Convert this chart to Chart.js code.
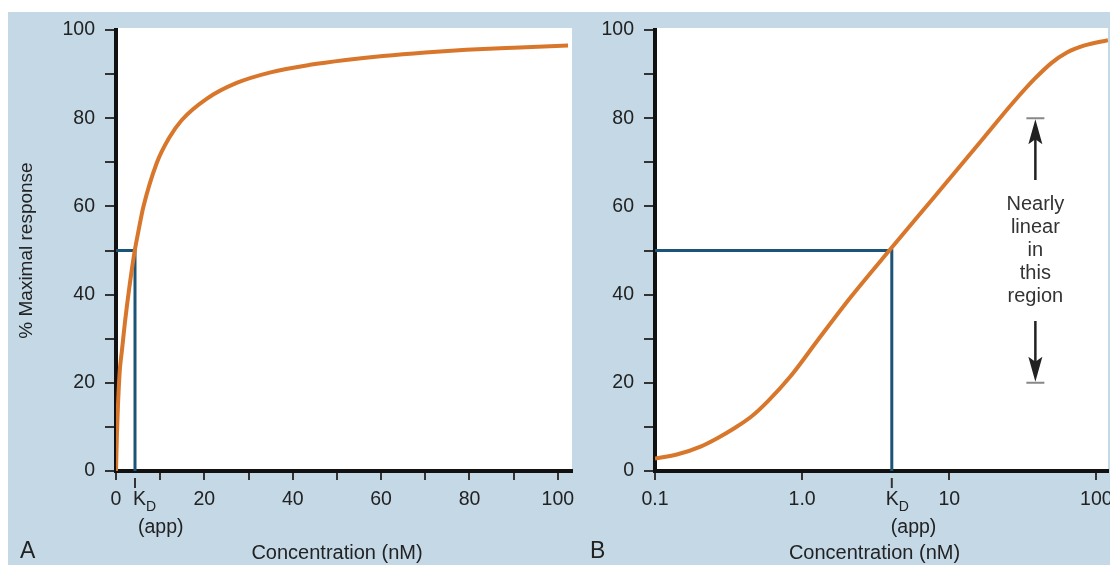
<!DOCTYPE html>
<html>
<head>
<meta charset="utf-8">
<script src="https://cdn.jsdelivr.net/npm/chart.js@4.4.1/dist/chart.umd.min.js"></script>
<style>
  html, body { margin: 0; padding: 0; background: #ffffff; overflow: hidden; width: 1110px; height: 565px; }
  #bg { position: absolute; left: 8px; top: 12px; width: 1102px; height: 553px; background: #c4d8e6; }
  canvas { position: absolute; top: 0; }
  #cA { left: 0; }
  #cB { left: 590px; }
</style>
</head>
<body>
<div id="bg"></div>
<canvas id="cA" width="590" height="565"></canvas>
<canvas id="cB" width="540" height="565"></canvas>
<script>
// ---------- data ----------
// Panel A: linear concentration axis
const concA = [0, 0.2, 0.8, 1.3, 2, 3, 4.3, 5, 6.2, 9.2, 12, 14.9, 20.5, 27.3, 35, 43.9, 52, 60.4, 70, 79.3, 90, 102.3];
const respA = [0, 8, 22, 27, 33.5, 41.5, 50.3, 54, 59.9, 69.8, 75.5, 79.6, 84.4, 88.0, 90.4, 92.1, 93.2, 94.1, 94.9, 95.5, 96.0, 96.5];
const kdA = 4.3;
const xTicksA = [0, 10, 20, 30, 40, 50, 60, 70, 80, 90, 100];
const xLabelsA = ['0', '', '20', '', '40', '', '60', '', '80', '', '100'];

// Panel B: logarithmic concentration axis
const concB = [0.1, 0.1426, 0.206, 0.267, 0.346, 0.45, 0.584, 0.84, 1.28, 2.15, 4.03, 7.94, 17.4, 22.6, 29.3, 38, 49.4, 63.1, 83.2, 120];
const respB = [2.8, 3.8, 5.6, 7.5, 9.7, 12.3, 15.8, 21.6, 29.7, 39.5, 50.5, 62.2, 75.8, 80.4, 84.8, 88.9, 92.5, 94.9, 96.5, 97.7];
const kdB = 4.07;
const xTicksB = [0.1, 1, 10, 100];
const xLabelsB = ['0.1', '1.0', '10', '100'];

// shared
const yTicks = [0, 10, 20, 30, 40, 50, 60, 70, 80, 90, 100];
const yLabels = ['0', '', '20', '', '40', '', '60', '', '80', '', '100'];
const kdResponse = 50;
const linearRegion = [20, 80];          // bracket limits
const arrowStarts = [34, 66];           // where the arrow shafts start
const arrowConc = 38.5;                 // x position of the bracket
const noteLines = ['Nearly', 'linear', 'in', 'this', 'region'];

// ---------- styling ----------
const FONT = '"Liberation Sans", Arial, Helvetica, sans-serif';
const ORANGE = '#d8772c';
const BLUE = '#1b5478';
const INK = '#222222';
Chart.defaults.font.family = FONT;
Chart.defaults.color = INK;

const whitePlot = {
  id: 'whitePlot',
  beforeDraw(chart) {
    const { ctx, chartArea: a } = chart;
    ctx.save();
    ctx.fillStyle = '#ffffff';
    ctx.fillRect(a.left, a.top - 2, a.right - a.left, a.bottom - a.top + 2);
    ctx.restore();
  }
};

function extras(kd, kDx, appDx, letter, letterX, note) {
  return {
    id: 'extras',
    afterDraw(chart) {
      const { ctx, chartArea: a } = chart;
      const xs = chart.scales.x, ys = chart.scales.y;
      const px = xs.getPixelForValue(kd);
      const b = a.bottom;
      ctx.save();
      // KD tick mark
      ctx.strokeStyle = '#333';
      ctx.lineWidth = 2;
      ctx.beginPath(); ctx.moveTo(px, b + 7); ctx.lineTo(px, b + 17); ctx.stroke();
      // KD (app) label
      ctx.fillStyle = INK;
      ctx.textBaseline = 'middle';
      ctx.textAlign = 'left';
      ctx.font = '19.5px ' + FONT;
      ctx.fillText('K', px + kDx, b + 29);
      const kw = ctx.measureText('K').width;
      ctx.font = '14px ' + FONT;
      ctx.fillText('D', px + kDx + kw, b + 36);
      ctx.font = '19.5px ' + FONT;
      ctx.fillText('(app)', px + appDx, b + 57);
      // axis title
      ctx.textAlign = 'center';
      ctx.font = '20px ' + FONT;
      ctx.fillText('Concentration (nM)', (a.left + a.right) / 2 - 7, 553);
      // panel letter
      ctx.textAlign = 'left';
      ctx.font = '23px ' + FONT;
      ctx.fillText(letter, letterX, 552);

      if (note) {
        const xA = xs.getPixelForValue(arrowConc);
        const yTop = ys.getPixelForValue(linearRegion[1]);
        const yBot = ys.getPixelForValue(linearRegion[0]);
        const yUp = ys.getPixelForValue(arrowStarts[1]);
        const yDn = ys.getPixelForValue(arrowStarts[0]);
        // bracket ends
        ctx.strokeStyle = '#888';
        ctx.lineWidth = 2;
        ctx.beginPath();
        ctx.moveTo(xA - 9, yTop); ctx.lineTo(xA + 9, yTop);
        ctx.moveTo(xA - 9, yBot); ctx.lineTo(xA + 9, yBot);
        ctx.stroke();
        // shafts
        ctx.strokeStyle = INK;
        ctx.lineWidth = 2.5;
        ctx.beginPath();
        ctx.moveTo(xA, yUp); ctx.lineTo(xA, yTop + 18);
        ctx.moveTo(xA, yDn); ctx.lineTo(xA, yBot - 18);
        ctx.stroke();
        // heads
        ctx.fillStyle = INK;
        ctx.beginPath();
        ctx.moveTo(xA, yTop + 1); ctx.lineTo(xA - 7, yTop + 26); ctx.lineTo(xA, yTop + 21); ctx.lineTo(xA + 7, yTop + 26); ctx.closePath();
        ctx.moveTo(xA, yBot - 1); ctx.lineTo(xA - 7, yBot - 26); ctx.lineTo(xA, yBot - 21); ctx.lineTo(xA + 7, yBot - 26); ctx.closePath();
        ctx.fill();
        // text
        const yc = ys.getPixelForValue(kdResponse);
        ctx.fillStyle = '#333';
        ctx.textAlign = 'center';
        ctx.textBaseline = 'middle';
        ctx.font = '20px ' + FONT;
        noteLines.forEach((t, i) => ctx.fillText(t, xA, yc + (i - 2) * 23.2));
      }
      ctx.restore();
    }
  };
}

function yScale(showTitle, width) {
  return {
    type: 'linear', min: 0, max: 100,
    afterBuildTicks: s => { s.ticks = yTicks.map(v => ({ value: v })); },
    afterFit: s => { s.width = width; },
    ticks: { callback: (v, i) => yLabels[i], padding: 10, font: { size: 19.5 }, color: INK, autoSkip: false },
    grid: { drawOnChartArea: false, drawTicks: true, tickLength: 11, color: '#333', lineWidth: 2 },
    border: { display: true, color: '#111', width: 4 },
    title: { display: showTitle, text: '% Maximal response', font: { size: 19 }, color: INK, padding: { top: 15.6, bottom: 0 } }
  };
}

function xGrid() {
  return { drawOnChartArea: false, drawTicks: true, tickLength: 9, color: '#333', lineWidth: 2 };
}

function curveDataset(xs, ys) {
  return {
    data: xs.map((x, i) => ({ x, y: ys[i] })),
    borderColor: ORANGE, borderWidth: 4, pointRadius: 0,
    cubicInterpolationMode: 'monotone', fill: false, order: 0
  };
}
function kdDataset(xStart, kd) {
  return {
    data: [{ x: xStart, y: kdResponse }, { x: kd, y: kdResponse }, { x: kd, y: 0 }],
    borderColor: BLUE, borderWidth: 3, pointRadius: 0, tension: 0, fill: false, order: 1
  };
}

const common = {
  responsive: false, animation: false, devicePixelRatio: 1,
  plugins: { legend: { display: false }, tooltip: { enabled: false } },
  events: []
};

new Chart(document.getElementById('cA'), {
  type: 'line',
  data: { datasets: [curveDataset(concA, respA), kdDataset(0, kdA)] },
  options: Object.assign({}, common, {
    layout: { padding: { top: 30, right: 18, bottom: 0, left: 0 } },
    scales: {
      x: {
        type: 'linear', min: 0, max: 103.2,
        afterBuildTicks: s => { s.ticks = xTicksA.map(v => ({ value: v })); },
        afterFit: s => { s.height = 94; },
        ticks: { callback: (v, i) => xLabelsA[i], padding: 8, font: { size: 19.5 }, color: INK, autoSkip: false, maxRotation: 0 },
        grid: xGrid(),
        border: { display: true, color: '#111', width: 4 }
      },
      y: yScale(true, 116)
    }
  }),
  plugins: [whitePlot, extras(kdA, -2, 3, 'A', 20, false)]
});

new Chart(document.getElementById('cB'), {
  type: 'line',
  data: { datasets: [curveDataset(concB, respB), kdDataset(0.1, kdB)] },
  options: Object.assign({}, common, {
    layout: { padding: { top: 30, right: 22, bottom: 0, left: 0 } },
    scales: {
      x: {
        type: 'logarithmic', min: 0.1, max: 120,
        afterBuildTicks: s => { s.ticks = xTicksB.map(v => ({ value: v })); },
        afterFit: s => { s.height = 94; },
        ticks: { callback: (v, i) => xLabelsB[i], padding: 8, font: { size: 19.5 }, color: INK, autoSkip: false, maxRotation: 0 },
        grid: xGrid(),
        border: { display: true, color: '#111', width: 4 }
      },
      y: yScale(false, 65)
    }
  }),
  plugins: [whitePlot, extras(kdB, -6, -1, 'B', 0, true)]
});
</script>
</body>
</html>
